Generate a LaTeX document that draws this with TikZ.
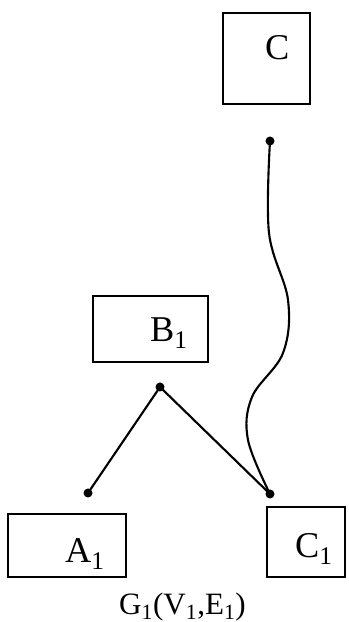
\documentclass[tikz,border=0pt]{standalone}
\usepackage{fontspec}
\setmainfont{Liberation Serif}
\usetikzlibrary{calc,positioning}

\begin{document}
\begin{tikzpicture}[
    % Styles
    vertexBox/.style={draw, line width=1.7pt, inner sep=0pt},
    vertexText/.style={inner sep=0pt, anchor=base west, font=\fontsize{31}{36}\selectfont},
    dotNode/.style={circle, fill, inner sep=0pt, minimum size=0.27cm},
    edgeLine/.style={line width=1.8pt}
]
\useasboundingbox (0,0) rectangle (10.44,18.66);

% ================= BOXES =================
\node[vertexBox, minimum width=2.61cm, minimum height=2.73cm] (cBox) at (7.995, 16.905) {};
\node[vertexBox, minimum width=3.45cm, minimum height=1.98cm] (bBox) at (4.515, 8.79) {};
\node[vertexBox, minimum width=3.54cm, minimum height=1.89cm] (aBox) at (2.01, 2.295) {};
\node[vertexBox, minimum width=2.34cm, minimum height=2.10cm] (c1Box) at (9.18, 2.40) {};

% ================= LABELS =================
\node[vertexText] (cText) at (7.95, 16.86) {C};
\node[vertexText] (bText) at (4.50, 8.40) {B\textsubscript{1}};
\node[vertexText] (aText) at (1.95, 1.77) {A\textsubscript{1}};
\node[vertexText] (c1Text) at (8.85, 1.92) {C\textsubscript{1}};
\node[vertexText, font=\fontsize{26.5}{30}\selectfont] (caption) at (3.57, 0.22) {G\textsubscript{1}(V\textsubscript{1},E\textsubscript{1})};

% ================= DOTS =================
\node[dotNode] (cDot) at (8.10, 14.43) {};
\node[dotNode] (bDot) at (4.80, 7.05) {};
\node[dotNode] (aDot) at (2.64, 3.87) {};
\node[dotNode] (c1Dot) at (8.10, 3.84) {};

% ================= EDGES =================
\draw[edgeLine] (bDot.center) -- (aDot.center);
\draw[edgeLine] (bDot.center) -- (c1Dot.center);
\draw[edgeLine] plot[smooth, tension=0.6] coordinates {(cDot.center) (8.07,11.67) (8.64,9.66) (8.49,8.07) (7.56,6.75) (7.44,5.46) (c1Dot.center)};

\end{tikzpicture}
\end{document}
